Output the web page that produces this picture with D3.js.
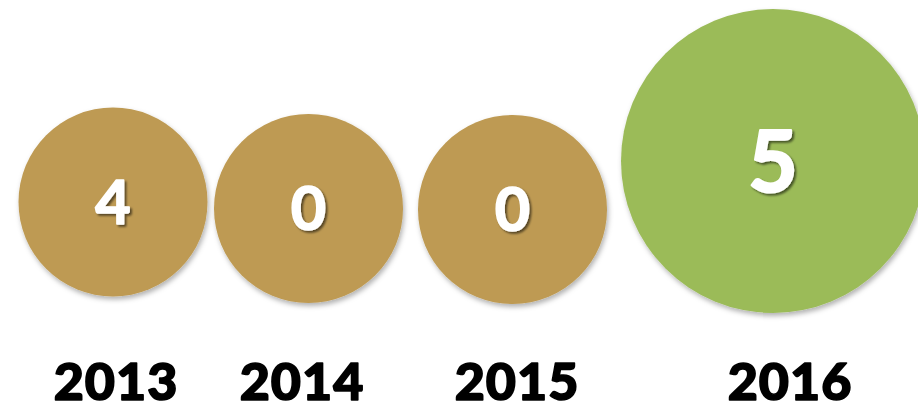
<!DOCTYPE html>
<html>
<head>
<meta charset="utf-8">
<script src="https://cdn.jsdelivr.net/npm/d3@7"></script>
<style>
html,body{margin:0;padding:0;background:#fff;}
svg{display:block;}
</style>
</head>
<body>
<svg id="chart" width="918" height="410"></svg>
<script>
// ---- data ----
const years = ["2013", "2014", "2015", "2016"];
const values = [4, 0, 0, 5];
const highlight = [false, false, false, true];

// ---- layout / style ----
const W = 918, H = 410;
const colorTan = "#BE9A52", colorGreen = "#9BBB59";
const xCircle = d3.scaleOrdinal().domain(years).range([113, 308.5, 512.5, 773]);
const yCircle = d3.scaleOrdinal().domain(years).range([202, 208.5, 209.5, 161]);
const xLabel = d3.scaleOrdinal().domain(years).range([116, 302, 517, 790]);
const rScale = d3.scaleOrdinal().domain([false, true]).range([94.5, 152]);
const fScale = d3.scaleOrdinal().domain([false, true]).range([61, 86]);
const capH = 0.72;

const svg = d3.select("#chart");
const defs = svg.append("defs");
const f1 = defs.append("filter").attr("id", "cshadow")
  .attr("x", "-20%").attr("y", "-20%").attr("width", "140%").attr("height", "140%");
f1.append("feDropShadow").attr("dx", 1.5).attr("dy", 3).attr("stdDeviation", 2.5)
  .attr("flood-color", "#000").attr("flood-opacity", 0.3);
const f2 = defs.append("filter").attr("id", "tshadow")
  .attr("x", "-30%").attr("y", "-30%").attr("width", "160%").attr("height", "160%");
f2.append("feDropShadow").attr("dx", 2).attr("dy", 2).attr("stdDeviation", 1)
  .attr("flood-color", "#000").attr("flood-opacity", 0.55);

const data = years.map((y, i) => ({year: y, value: values[i], hi: highlight[i]}));

const g = svg.append("g");
g.selectAll("circle").data(data).join("circle")
  .attr("cx", d => xCircle(d.year))
  .attr("cy", d => yCircle(d.year))
  .attr("r", d => rScale(d.hi))
  .attr("fill", d => d.hi ? colorGreen : colorTan)
  .attr("filter", "url(#cshadow)");

g.selectAll("text.val").data(data).join("text")
  .attr("class", "val")
  .attr("x", d => xCircle(d.year))
  .attr("y", d => yCircle(d.year) + fScale(d.hi) * capH / 2)
  .attr("text-anchor", "middle")
  .attr("font-family", "Lato, 'Open Sans', sans-serif")
  .attr("font-weight", 700)
  .attr("font-size", d => fScale(d.hi))
  .attr("fill", "#fff")
  .attr("stroke", "#fff")
  .attr("stroke-width", d => d.hi ? 2.2 : 1.6)
  .attr("stroke-linejoin", "round")
  .attr("filter", "url(#tshadow)")
  .text(d => d.value);

g.selectAll("text.yr").data(data).join("text")
  .attr("class", "yr")
  .attr("x", d => xLabel(d.year))
  .attr("y", 400)
  .attr("text-anchor", "middle")
  .attr("font-family", "Lato, 'Open Sans', sans-serif")
  .attr("font-weight", 900)
  .attr("font-size", 52)
  .attr("letter-spacing", 1)
  .attr("fill", "#000")
  .attr("stroke", "#000")
  .attr("stroke-width", 1.6)
  .attr("stroke-linejoin", "round")
  .text(d => d.year);
</script>
</body>
</html>
